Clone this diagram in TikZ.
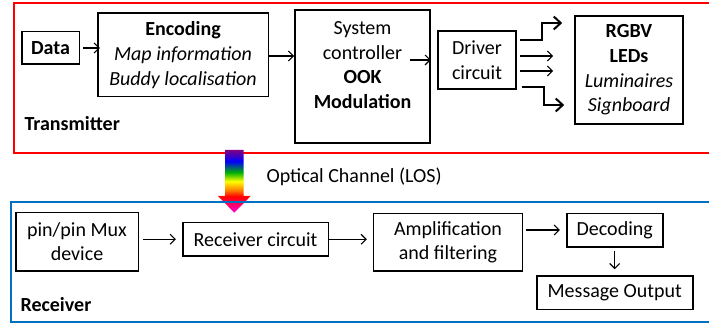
\documentclass[tikz,border=0pt]{standalone}
\usepackage{fontspec}
\setmainfont{Carlito}
\usetikzlibrary{arrows.meta}
\pgfdeclareverticalshading{rainbow}{100bp}{color(0bp)=(magenta!85!red); color(25bp)=(magenta!85!red);
  color(38bp)=(red); color(43bp)=(orange); color(50bp)=(yellow); color(57bp)=(green!70!black);
  color(66bp)=(blue); color(75bp)=(violet); color(100bp)=(violet)}
\definecolor{txred}{RGB}{255,0,0}
\definecolor{rxblue}{RGB}{0,112,192}
\begin{document}
\begin{tikzpicture}[>={Straight Barb[length=5pt,width=10pt]},x=1pt,y=-1pt,
	box/.style={draw,line width=1.6pt,inner sep=0pt,align=center},
	conn/.style={->,line width=1.1pt},
	bus/.style={-{Straight Barb[length=7pt,width=13pt]},line width=2pt},
	every node/.style={font=\fontsize{20}{24.7}\selectfont}]
	\useasboundingbox (0,0) rectangle (709,323);
	\clip (0,0) rectangle (709,323);
	% transmitter
	\draw[txred,line width=1.8pt] (14,3) rectangle (720,153);
	\node[anchor=west] (tx) at (21,124) {\bfseries Transmitter};
	\node[box,minimum width=57.6,minimum height=32.6] (data) at (50.5,48) {\bfseries Data};
	\node[box,minimum width=170.6,minimum height=83.4] (enc) at (183,55)
		{\bfseries Encoding\\\itshape Map information\\\itshape Buddy localisation};
	\node[box,minimum width=135,minimum height=133] (sys) at (362.5,76.5) {};
	\node[align=center] (systxt) at (362.5,65)
		{System\\controller\\\bfseries OOK\\\bfseries Modulation};
	\node[box,minimum width=78,minimum height=58] (drv) at (477,60) {Driver\\circuit};
	\node[box,minimum width=108,minimum height=108] (leds) at (629,70)
		{\bfseries RGBV\\\bfseries LEDs\\\itshape Luminaires\\\itshape Signboard};
	\draw[conn] ([xshift=3]data.east) -- ([xshift=3]data.east -| enc.west);
	\draw[conn] ([yshift=-1]enc.east) -- ([yshift=-1]enc.east -| sys.west);
	\draw[conn] ([xshift=-21]sys.east |- drv.west) -- (sys.east |- drv.west);
	\draw[bus] ([shift={(3,-20)}]drv.east) -- ++(22,0) |- ([shift={(-12,-47)}]leds.west);
	\draw[conn] ([shift={(3,-4)}]drv.east) -- ([shift={(-21,-14)}]leds.west);
	\draw[conn] ([shift={(3,11)}]drv.east) -- ([shift={(-21,1)}]leds.west);
	\draw[bus] ([shift={(5,27)}]drv.east) -- ++(22,0) |- ([shift={(-10,35)}]leds.west);
	% optical channel
	\shade[shading=rainbow] (225,150) -- (243.7,150) -- (243.7,196) -- (250.7,196)
		-- (234.3,212.7) -- (218,196) -- (225,196) -- cycle;
	\node[anchor=west] (los) at (263,177) {Optical Channel (LOS)};
	% receiver
	\draw[rxblue,line width=1.8pt] (10.7,201.7) rectangle (720,321.7);
	\node[anchor=west] (rx) at (17,305) {\bfseries Receiver};
	\node[box,minimum width=122.6,minimum height=58.7] (mux) at (77,241.7) {pin/pin Mux\\device};
	\node[box,minimum width=145.6,minimum height=33.3] (rxc) at (255.5,239.3) {Receiver circuit};
	\node[box,minimum width=148.7,minimum height=57.7] (amp) at (448,242.2) {Amplification\\and filtering};
	\node[box,minimum width=96,minimum height=33.4] (dec) at (614.7,230) {Decoding};
	\node[box,minimum width=156,minimum height=33.3] (msg) at (614.7,292.7) {Message Output};
	\draw[conn] ([xshift=4]mux.east |- rxc.west) -- ([xshift=-6]rxc.west);
	\draw[conn] (rxc.east) -- ([xshift=-6]amp.west |- rxc.east);
	\draw[conn] ([xshift=3]amp.east |- dec.west) -- ([xshift=-6]dec.west);
	\draw[conn] ([yshift=-3]dec.south) -- ([yshift=6]msg.north);
\end{tikzpicture}
\end{document}
